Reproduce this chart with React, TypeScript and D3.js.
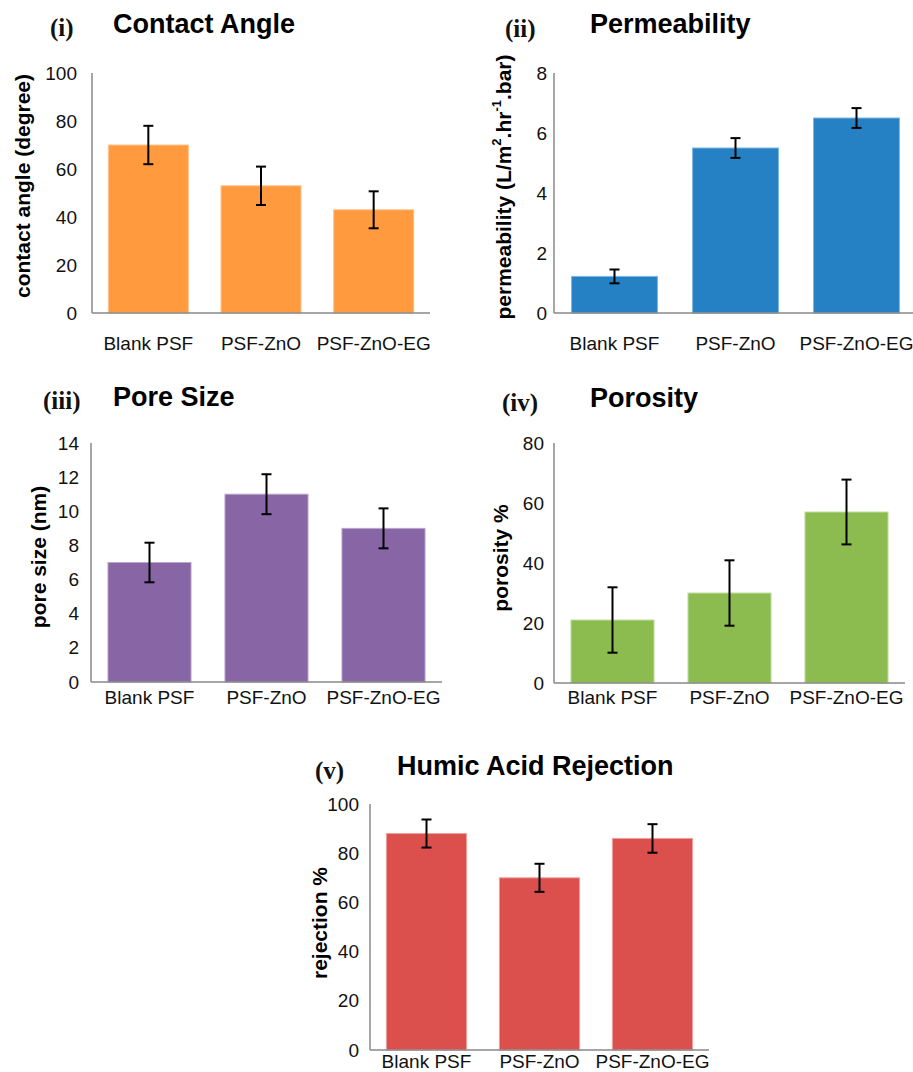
import React from "react";
import { scaleBand, scaleLinear } from "d3";

const categories = ["Blank PSF", "PSF-ZnO", "PSF-ZnO-EG"];

const contactAngle = [70, 53, 43];
const contactAngleErr = [8, 8, 7.7];
const contactTicks = [0, 20, 40, 60, 80, 100];

const permeability = [1.22, 5.5, 6.5];
const permeabilityErr = [0.23, 0.33, 0.33];
const permeabilityTicks = [0, 2, 4, 6, 8];

const poreSize = [7, 11, 9];
const poreSizeErr = [1.16, 1.17, 1.17];
const poreTicks = [0, 2, 4, 6, 8, 10, 12, 14];

const porosity = [21, 30, 57];
const porosityErr = [10.9, 10.9, 10.8];
const porosityTicks = [0, 20, 40, 60, 80];

const rejection = [88, 70, 86];
const rejectionErr = [5.7, 5.7, 5.8];
const rejectionTicks = [0, 20, 40, 60, 80, 100];

const SANS = "'Liberation Sans', Arial, sans-serif";
const SERIF = "'Liberation Serif', 'Times New Roman', serif";

type PanelProps = {
  letter: string;
  title: string;
  yLabel: React.ReactNode;
  values: number[];
  errors: number[];
  ticks: number[];
  color: string;
  edge: string;
  // layout
  x0: number;
  x1: number;
  yTop: number;
  yBottom: number;
  tickRight: number;
  yLabelX: number;
  yLabelY: number;
  catBaseline: number;
  titleX: number;
  titleY: number;
  letterX: number;
  letterY: number;
};

function Panel(p: PanelProps) {
  const x = scaleBand<string>()
    .domain(categories)
    .range([p.x0, p.x1])
    .paddingInner(0.29)
    .paddingOuter(0.145);
  const y = scaleLinear()
    .domain([p.ticks[0], p.ticks[p.ticks.length - 1]])
    .range([p.yBottom, p.yTop]);
  const bw = x.bandwidth();

  return (
    <g>
      <text x={p.letterX} y={p.letterY} fontFamily={SERIF} fontWeight="bold" fontSize={25} fill="#111">
        {p.letter}
      </text>
      <text x={p.titleX} y={p.titleY} fontFamily={SANS} fontWeight="bold" fontSize={27} fill="#000">
        {p.title}
      </text>

      {/* bars */}
      {categories.map((c, i) => (
        <rect
          key={c}
          x={x(c)}
          y={y(p.values[i])}
          width={bw}
          height={p.yBottom - y(p.values[i])}
          fill={p.color}
          stroke={p.edge}
          strokeWidth={1}
        />
      ))}

      {/* error bars */}
      {categories.map((c, i) => {
        const cx = (x(c) as number) + bw / 2;
        const hi = y(p.values[i] + p.errors[i]);
        const lo = y(p.values[i] - p.errors[i]);
        return (
          <g key={"e" + c} stroke="#000" strokeWidth={2}>
            <line x1={cx} x2={cx} y1={hi} y2={lo} />
            <line x1={cx - 5} x2={cx + 5} y1={hi} y2={hi} />
            <line x1={cx - 5} x2={cx + 5} y1={lo} y2={lo} />
          </g>
        );
      })}

      {/* axes */}
      <line x1={p.x0} x2={p.x0} y1={p.yTop} y2={p.yBottom} stroke="#888" strokeWidth={1.5} />
      <line x1={p.x0} x2={p.x1} y1={p.yBottom} y2={p.yBottom} stroke="#888" strokeWidth={1.5} />

      {p.ticks.map((t) => (
        <text
          key={t}
          x={p.tickRight}
          y={y(t)}
          textAnchor="end"
          dominantBaseline="central"
          fontFamily={SANS}
          fontSize={19}
          fill="#111"
        >
          {t}
        </text>
      ))}

      {categories.map((c) => (
        <text
          key={"c" + c}
          x={(x(c) as number) + bw / 2}
          y={p.catBaseline}
          textAnchor="middle"
          fontFamily={SANS}
          fontSize={19}
          fill="#111"
        >
          {c}
        </text>
      ))}

      <text
        transform={`translate(${p.yLabelX},${p.yLabelY}) rotate(-90)`}
        textAnchor="middle"
        dominantBaseline="central"
        fontFamily={SANS}
        fontWeight="bold"
        fontSize={21}
        fill="#000"
      >
        {p.yLabel}
      </text>
    </g>
  );
}

export default function App() {
  return (
    <svg
      width={913}
      height={1072}
      style={{ position: "absolute", left: 0, top: 0, background: "#fff" }}
    >
      <Panel
        letter="(i)"
        title="Contact Angle"
        yLabel="contact angle (degree)"
        values={contactAngle}
        errors={contactAngleErr}
        ticks={contactTicks}
        color="#FF9A3E"
        edge="#FFC38C"
        x0={92}
        x1={430}
        yTop={73}
        yBottom={313}
        tickRight={77}
        yLabelX={22}
        yLabelY={186}
        catBaseline={350}
        titleX={113}
        titleY={33}
        letterX={50}
        letterY={36}
      />
      <Panel
        letter="(ii)"
        title="Permeability"
        yLabel={
          <>
            permeability (L/m
            <tspan fontSize={13} dy={-7}>2</tspan>
            <tspan dy={7}>.hr</tspan>
            <tspan fontSize={13} dy={-7}>-1</tspan>
            <tspan dy={7}>.bar)</tspan>
          </>
        }
        values={permeability}
        errors={permeabilityErr}
        ticks={permeabilityTicks}
        color="#2581C4"
        edge="#7FB6E0"
        x0={554}
        x1={917}
        yTop={73}
        yBottom={313}
        tickRight={547}
        yLabelX={503}
        yLabelY={187}
        catBaseline={350}
        titleX={590}
        titleY={33}
        letterX={505}
        letterY={37}
      />
      <Panel
        letter="(iii)"
        title="Pore Size"
        yLabel="pore size (nm)"
        values={poreSize}
        errors={poreSizeErr}
        ticks={poreTicks}
        color="#8865A5"
        edge="#BBA6CC"
        x0={91}
        x1={442}
        yTop={443}
        yBottom={682}
        tickRight={79}
        yLabelX={38}
        yLabelY={557}
        catBaseline={704}
        titleX={113}
        titleY={406}
        letterX={43}
        letterY={409}
      />
      <Panel
        letter="(iv)"
        title="Porosity"
        yLabel="porosity %"
        values={porosity}
        errors={porosityErr}
        ticks={porosityTicks}
        color="#8CBC50"
        edge="#C2DDA0"
        x0={554}
        x1={905}
        yTop={443}
        yBottom={683}
        tickRight={544}
        yLabelX={500}
        yLabelY={558}
        catBaseline={704}
        titleX={590}
        titleY={407}
        letterX={502}
        letterY={411}
      />
      <Panel
        letter="(v)"
        title="Humic Acid Rejection"
        yLabel="rejection %"
        values={rejection}
        errors={rejectionErr}
        ticks={rejectionTicks}
        color="#DB504C"
        edge="#EFA19E"
        x0={370}
        x1={709}
        yTop={804}
        yBottom={1050}
        tickRight={359}
        yLabelX={319}
        yLabelY={923}
        catBaseline={1068}
        titleX={397}
        titleY={775}
        letterX={315}
        letterY={779}
      />
    </svg>
  );
}
